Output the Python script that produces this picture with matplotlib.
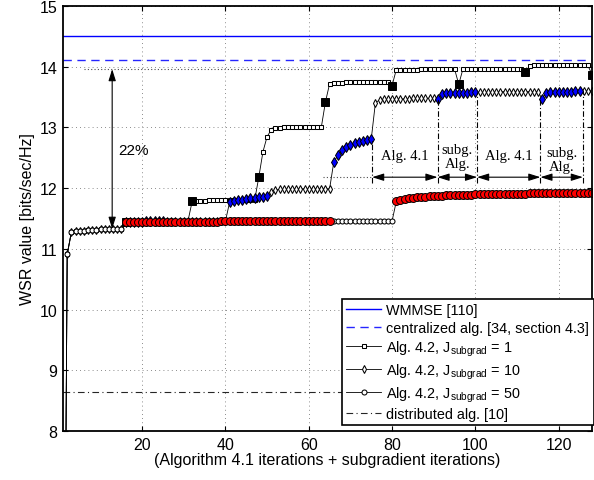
import numpy as np
import matplotlib
matplotlib.use("Agg")
import matplotlib.pyplot as plt

plt.rcParams['font.family'] = ['Liberation Sans', 'DejaVu Sans']
plt.rcParams['mathtext.fontset'] = 'custom'
plt.rcParams['mathtext.rm'] = 'Liberation Sans'
plt.rcParams['mathtext.it'] = 'Liberation Sans:italic'
plt.rcParams['mathtext.bf'] = 'Liberation Sans:bold'

# ---------------------------------------------------------------- data
iterations = np.arange(1, 129)

# Algorithm 4.1 iterations 1..15 (common to all runs)
wsr_start = [0.5, 10.91, 11.27, 11.29, 11.30, 11.30, 11.31, 11.31, 11.31,
             11.32, 11.32, 11.32, 11.32, 11.33, 11.33]

# J_subgrad = 1, iterations 16..128
wsr_j1_rest = [
    11.45,
    11.45, 11.46, 11.46, 11.46, 11.46, 11.46, 11.46, 11.46, 11.46, 11.46, 11.46, 11.46, 11.46, 11.46, 11.46,
    11.78,
    11.79, 11.79, 11.79, 11.80, 11.80, 11.80, 11.80, 11.80, 11.80, 11.80, 11.80, 11.80, 11.80, 11.80, 11.80,
    12.18,
    12.60, 12.85, 12.96, 12.99, 12.99, 13.00, 13.00, 13.00, 13.00, 13.00, 13.00, 13.00, 13.00, 13.00, 13.00,
    13.42,
    13.72, 13.73, 13.73, 13.73, 13.74, 13.74, 13.74, 13.74, 13.74, 13.74, 13.74, 13.74, 13.74, 13.74, 13.74,
    13.69,
    13.95, 13.95, 13.95, 13.95, 13.95, 13.95, 13.96, 13.96, 13.96, 13.96, 13.96, 13.96, 13.96, 13.96, 13.96,
    13.71,
    13.96, 13.96, 13.96, 13.97, 13.97, 13.97, 13.97, 13.97, 13.97, 13.97, 13.97, 13.97, 13.97, 13.97, 13.97,
    13.92,
    14.01, 14.02, 14.02, 14.02, 14.02, 14.02, 14.02, 14.02, 14.02, 14.02, 14.02, 14.02, 14.02, 14.02, 14.02,
    13.87,
]

# J_subgrad = 10, iterations 16..128
wsr_j10_rest = [
    11.45, 11.45, 11.45, 11.45, 11.45, 11.46, 11.46, 11.46, 11.46, 11.46,
    11.46, 11.46, 11.46, 11.46, 11.46, 11.46, 11.46, 11.46, 11.46, 11.46, 11.46, 11.46, 11.46, 11.46, 11.46,
    11.77, 11.79, 11.80, 11.81, 11.82, 11.83, 11.84, 11.85, 11.86, 11.87,
    11.93, 11.97, 11.98, 11.98, 11.99, 11.99, 11.99, 11.99, 11.99, 11.99, 11.99, 11.99, 11.99, 11.99, 11.99,
    12.43, 12.54, 12.62, 12.67, 12.71, 12.74, 12.76, 12.78, 12.80, 12.81,
    13.41, 13.45, 13.46, 13.46, 13.47, 13.47, 13.47, 13.47, 13.47, 13.48, 13.48, 13.48, 13.48, 13.48, 13.48,
    13.47, 13.55, 13.56, 13.56, 13.57, 13.57, 13.57, 13.57, 13.58, 13.58,
    13.58, 13.58, 13.58, 13.58, 13.58, 13.59, 13.59, 13.59, 13.59, 13.59, 13.59, 13.59, 13.59, 13.59, 13.59,
    13.47, 13.57, 13.58, 13.58, 13.59, 13.59, 13.59, 13.59, 13.60, 13.60,
    13.60, 13.60, 13.60,
]

# J_subgrad = 50, iterations 16..128
wsr_j50_rest = [
    11.44, 11.45, 11.45, 11.45, 11.45, 11.45, 11.45, 11.45, 11.45, 11.45,
    11.45, 11.45, 11.45, 11.45, 11.45, 11.45, 11.45, 11.45, 11.45, 11.45,
    11.45, 11.45, 11.45, 11.46, 11.46, 11.46, 11.46, 11.46, 11.46, 11.46,
    11.46, 11.46, 11.46, 11.46, 11.46, 11.46, 11.46, 11.46, 11.46, 11.46,
    11.46, 11.46, 11.46, 11.46, 11.46, 11.46, 11.46, 11.46, 11.46, 11.46,
    11.46, 11.46, 11.46, 11.46, 11.46, 11.46, 11.46, 11.46, 11.46, 11.46, 11.46, 11.46, 11.46, 11.46, 11.46,
    11.78, 11.80, 11.82, 11.83, 11.84, 11.85, 11.855, 11.86, 11.865, 11.87,
    11.873, 11.876, 11.879, 11.882, 11.885, 11.887, 11.889, 11.891, 11.893, 11.895,
    11.897, 11.899, 11.900, 11.902, 11.903, 11.905, 11.906, 11.907, 11.908, 11.909,
    11.910, 11.911, 11.912, 11.913, 11.914, 11.915, 11.915, 11.916, 11.916, 11.917,
    11.917, 11.918, 11.918, 11.919, 11.919, 11.920, 11.920, 11.920,
]

wsr_j1 = np.array(wsr_start + wsr_j1_rest)
wsr_j10 = np.array(wsr_start + wsr_j10_rest)
wsr_j50 = np.array(wsr_start + wsr_j50_rest)

# subgradient phases (first, last iteration)
subgrad_j1 = [(16, 16), (32, 32), (48, 48), (64, 64), (80, 80), (96, 96), (112, 112), (128, 128)]
subgrad_j10 = [(16, 25), (41, 50), (66, 75), (91, 100), (116, 125)]
subgrad_j50 = [(16, 65), (81, 128)]

wmmse_value = 14.51
centralized_value = 14.11
distributed_value = 8.64

# phase boundaries on the J_subgrad = 10 run and their labels
phase_bounds = [75.2, 90.9, 100.4, 115.6, 125.8]
phase_tops = [12.81, 13.47, 13.58, 13.47, 13.60]
phase_labels = ["Alg. 4.1", "subg.\nAlg.", "Alg. 4.1", "subg.\nAlg."]
phase_label_y = [12.54, 12.52, 12.54, 12.47]

gain_low, gain_high = 11.33, 13.96
gain_text = "22%"

legend_labels = [
    "WMMSE [110]",
    "centralized alg. [34, section 4.3]",
    r"Alg. 4.2, J$_{\rm subgrad}$ = 1",
    r"Alg. 4.2, J$_{\rm subgrad}$ = 10",
    r"Alg. 4.2, J$_{\rm subgrad}$ = 50",
    "distributed alg. [10]",
]


def phase_mask(ranges):
    m = np.zeros(len(iterations), dtype=bool)
    for a, b in ranges:
        m |= (iterations >= a) & (iterations <= b)
    return m


# ---------------------------------------------------------------- figure
fig = plt.figure(figsize=(5.94, 4.81), dpi=100)
ax = fig.add_axes([0.1061, 0.1019, 0.8906, 0.8836])

ax.set_xlim(1, 128)
ax.set_ylim(8, 15)

h_wmmse, = ax.plot([1, 128], [wmmse_value] * 2, color=(0, 0, 1), lw=1.0)
h_cent, = ax.plot([1, 128], [centralized_value] * 2, color=(0.15, 0.15, 1), lw=1.0,
                  dashes=(6, 4))
h_dist, = ax.plot([1, 128], [distributed_value] * 2, color='0.15', lw=0.8,
                  dashes=(6, 3, 1, 3))

series = [
    (wsr_j1, subgrad_j1, 's', 3.4, 5.6, 'k'),
    (wsr_j10, subgrad_j10, 'd', 4.0, 5.4, (0, 0, 1)),
    (wsr_j50, subgrad_j50, 'o', 3.6, 5.7, (1, 0, 0)),
]
handles = []
for y, ranges, mk, ms_small, ms_big, fill in series:
    h, = ax.plot(iterations, y, color='k', lw=0.6, marker=mk, ms=ms_small,
                 mfc='w', mec='k', mew=0.75)
    handles.append(h)
    m = phase_mask(ranges)
    ax.plot(iterations[m], y[m], ls='none', marker=mk, ms=ms_big,
            mfc=fill, mec='k', mew=0.7)

# 22 % gain indicator
ax.plot([6, 80], [gain_high, gain_high], color='0.3', lw=0.8, dashes=(1, 2))
ax.annotate('', xy=(12.8, gain_high), xytext=(12.8, gain_low),
            arrowprops=dict(arrowstyle='<|-|>,head_length=0.7,head_width=0.22',
                            color='k', lw=0.8, shrinkA=0, shrinkB=0))
ax.text(17.9, 12.63, gain_text, fontsize=11, ha='center', va='center')

# phase brackets
arrow_y = 12.18
ax.plot([63.3, phase_bounds[0]], [arrow_y, arrow_y], color='0.3', lw=0.8, dashes=(1, 2))
for xb, yt in zip(phase_bounds, phase_tops):
    ax.plot([xb, xb], [12.08, yt], color='k', lw=0.8, dashes=(5, 2, 1, 2))
for i, lab in enumerate(phase_labels):
    x0, x1 = phase_bounds[i], phase_bounds[i + 1]
    ax.annotate('', xy=(x1, arrow_y), xytext=(x0, arrow_y),
                arrowprops=dict(arrowstyle='<|-|>,head_length=0.7,head_width=0.22',
                                color='k', lw=0.8, shrinkA=0, shrinkB=0))
    ax.text((x0 + x1) / 2, phase_label_y[i], lab, fontsize=10.5, ha='center',
            va='center', family=['Liberation Serif', 'DejaVu Serif'], linespacing=1.1)

# axes styling
ax.set_xticks([20, 40, 60, 80, 100, 120])
ax.set_yticks([8, 9, 10, 11, 12, 13, 14, 15])
ax.tick_params(direction='in', length=3.6, width=0.8, top=True, right=True,
               labelsize=11.5, pad=4)
for s in ax.spines.values():
    s.set_linewidth(1.3)
ax.grid(True, color='0.4', lw=0.6, ls=(0, (1, 4)))
ax.set_axisbelow(True)

ax.set_xlabel("(Algorithm 4.1 iterations + subgradient iterations)", fontsize=11.5,
              labelpad=0)
ax.set_ylabel("WSR value [bits/sec/Hz]", fontsize=11.5, labelpad=3)

leg = ax.legend([h_wmmse, h_cent] + handles + [h_dist], legend_labels,
                loc='lower right', bbox_to_anchor=(1.003, 0.013), borderaxespad=0,
                fontsize=10.4, handlelength=2.45, handletextpad=0.35,
                borderpad=0.3, labelspacing=0.25, fancybox=False, framealpha=1,
                edgecolor='k')
leg.get_frame().set_linewidth(1.2)

fig.savefig("out.png", dpi=100)
